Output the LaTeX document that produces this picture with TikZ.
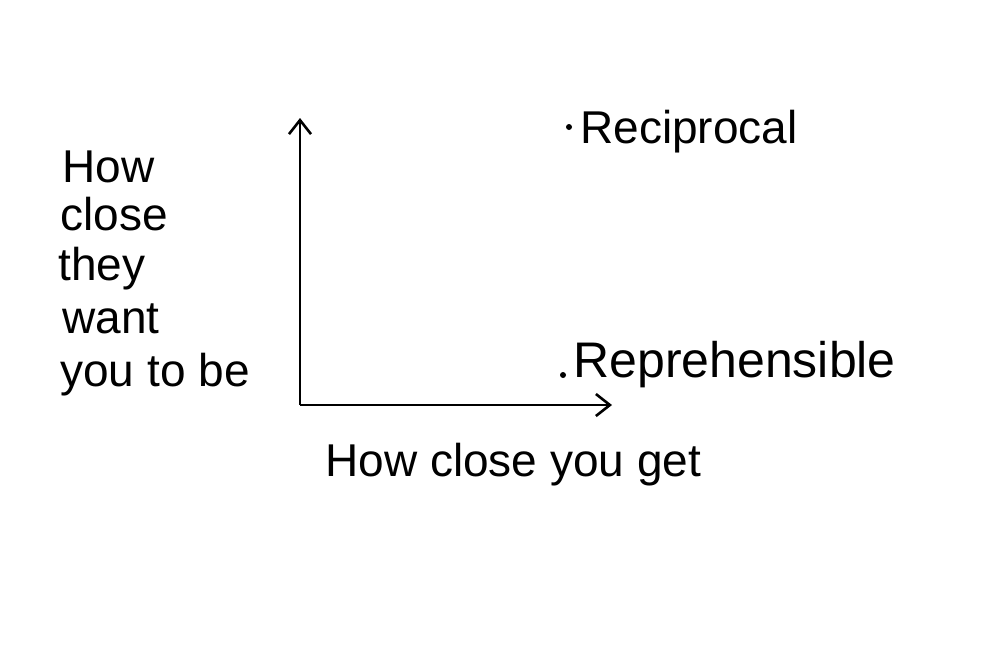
\documentclass[tikz,border=0pt]{standalone}
\usepackage{fontspec}
\setmainfont{Liberation Sans}
\usetikzlibrary{arrows.meta}
\begin{document}
\begin{tikzpicture}[x=0.5pt,y=-0.5pt,
  axis/.style={line width=1.4pt,-{Straight Barb[length=7pt,width=11pt,line width=1.3pt]}},
  lbl/.style={anchor=base west,inner sep=0pt,font=\fontsize{23}{26}\selectfont},
  big/.style={anchor=base west,inner sep=0pt,font=\fontsize{25}{28}\selectfont},
  mid/.style={anchor=base west,inner sep=0pt,font=\fontsize{23}{26}\selectfont},
  pt/.style={circle,fill=black,inner sep=0pt,minimum size=3pt}]
\useasboundingbox (0,0) rectangle (1000,645);
\coordinate (o) at (300,405);
\coordinate (ytip) at (300,118);
\coordinate (xtip) at (612,405);
\draw[axis] (o) -- (ytip);
\draw[axis] (o) -- (xtip);
\node[lbl] (l1) at (62,182) {How};
\node[lbl] (l2) at (60,230) {close};
\node[lbl] (l3) at (58,280) {they};
\node[lbl] (l4) at (62,333) {want};
\node[lbl] (l5) at (60,386) {you to be};
\node[mid] (xl) at (325,476) {How close you get};
\node[pt] (d1) at (569,127) {};
\node[mid] (r1) at (580,143) {Reciprocal};
\node[pt] (d2) at (563,375) {};
\node[big] (r2) at (573,377) {Reprehensible};
\end{tikzpicture}
\end{document}
